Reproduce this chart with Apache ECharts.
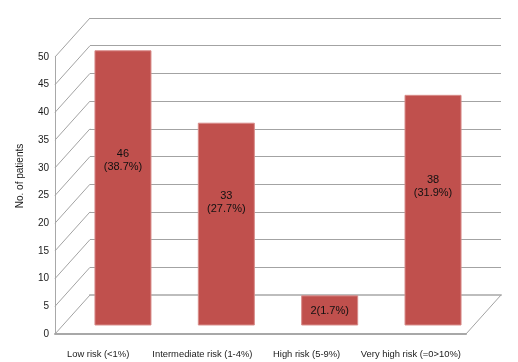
<!DOCTYPE html>
<html>
<head>
<meta charset="utf-8">
<script src="https://cdn.jsdelivr.net/npm/echarts@6/dist/echarts.min.js"></script>
<style>html,body{margin:0;padding:0;background:#fff}#c{width:518px;height:362px}</style>
</head>
<body>
<div id="c"></div>
<script>
var categories = ['Low risk (<1%)', 'Intermediate risk (1-4%)', 'High risk (5-9%)', 'Very high risk (=0>10%)'];
var counts = [46, 33, 2, 38];
var percents = ['38.7%', '27.7%', '1.7%', '31.9%'];
var yTicks = [0, 5, 10, 15, 20, 25, 30, 35, 40, 45, 50];
var yTitle = 'No. of patients';

var FONT = '"Liberation Sans", Arial, sans-serif';
var GRID_LINE = '#a3a3a3';
var DEPTH_X = -35, DEPTH_Y = 39;   // perspective offset from back wall to front plane
var BAR_BASE = -3.23;              // bars hang slightly below the zero level (3D look)

var chart = echarts.init(document.getElementById('c'), null, {renderer: 'canvas'});

var labels = counts.map(function (c, i) {
  return c >= 10 ? c + '\n(' + percents[i] + ')' : c + '(' + percents[i] + ')';
});

var option = {
  animation: false,
  backgroundColor: '#ffffff',
  textStyle: {fontFamily: FONT},
  grid: [
    {left: 55, top: 57, width: 411, height: 277},
    {left: 90, top: 18, width: 411, height: 277},
    {left: 71.3, top: 28.5, width: 413.4, height: 278.5},
    {left: 46, top: 300, width: 417, height: 44}
  ],
  xAxis: [
    {gridIndex: 0, type: 'category', data: categories, axisTick: {show: false}, axisLabel: {show: false},
      axisLine: {show: true, lineStyle: {color: '#a8a8a8', width: 2}}},
    {gridIndex: 1, type: 'category', data: categories, position: 'top', axisTick: {show: false}, axisLabel: {show: false},
      axisLine: {show: true, lineStyle: {color: '#bdbdbd', width: 2}}},
    {gridIndex: 2, type: 'category', data: categories, show: false},
    {gridIndex: 3, type: 'category', data: categories, axisTick: {show: false}, axisLine: {show: false},
      axisLabel: {show: true, interval: 0, margin: 6, fontSize: 9.4, color: '#1a1a1a', fontFamily: FONT}}
  ],
  yAxis: [
    {gridIndex: 0, type: 'value', min: yTicks[0], max: yTicks[yTicks.length - 1], interval: 5,
      axisLine: {show: true, lineStyle: {color: '#a8a8a8', width: 1}}, axisTick: {show: false},
      splitLine: {show: false},
      axisLabel: {show: true, fontSize: 10, color: '#1a1a1a', margin: 6, fontFamily: FONT}},
    {gridIndex: 1, type: 'value', min: yTicks[0], max: yTicks[yTicks.length - 1], interval: 5,
      axisLine: {show: false}, axisTick: {show: false}, axisLabel: {show: false},
      splitLine: {show: true, lineStyle: {color: GRID_LINE, width: 1}}},
    {gridIndex: 2, type: 'value', min: 0, max: 50, show: false, splitLine: {show: false}},
    {gridIndex: 3, type: 'value', show: false, splitLine: {show: false}}
  ],
  graphic: [
    {type: 'text', x: 20, y: 176, rotation: Math.PI / 2,
      style: {text: yTitle, fill: '#1a1a1a', font: '10px ' + FONT, align: 'center', verticalAlign: 'middle'}}
  ],
  series: [
    {
      type: 'custom', xAxisIndex: 1, yAxisIndex: 1, clip: false, silent: true,
      data: yTicks.map(function (t) { return [0, t]; }),
      renderItem: function (params, api) {
        var cs = params.coordSys;
        var p = api.coord([0, api.value(1)]);
        var children = [{
          type: 'line',
          shape: {x1: cs.x, y1: p[1], x2: cs.x + DEPTH_X, y2: p[1] + DEPTH_Y},
          style: {stroke: GRID_LINE, lineWidth: 1}
        }];
        if (api.value(1) === 0) {
          children.push({
            type: 'line',
            shape: {x1: cs.x + cs.width, y1: p[1], x2: cs.x + cs.width + DEPTH_X, y2: p[1] + DEPTH_Y},
            style: {stroke: GRID_LINE, lineWidth: 1}
          });
        }
        return {type: 'group', children: children};
      }
    },
    {
      type: 'custom', xAxisIndex: 2, yAxisIndex: 2, clip: false,
      data: counts.map(function (v, i) { return [i, v]; }),
      renderItem: function (params, api) {
        var i = api.value(0), v = api.value(1);
        var top = api.coord([i, v]);
        var bot = api.coord([i, BAR_BASE]);
        var w = api.size([1, 0])[0] * 0.542;
        var multi = labels[i].indexOf('\n') >= 0;
        var ly = multi ? api.coord([i, v * 0.57])[1] : (top[1] + bot[1]) / 2 + 1;
        return {
          type: 'group',
          children: [
            {type: 'rect', shape: {x: top[0] - w / 2, y: top[1], width: w, height: bot[1] - top[1]},
              style: {fill: '#c0504d', stroke: '#d88c8a', lineWidth: 1}},
            {type: 'text', x: top[0], y: ly,
              style: {text: labels[i], fill: '#111', font: '11px ' + FONT, align: 'center', verticalAlign: 'middle', lineHeight: 13}}
          ]
        };
      }
    },
    {type: 'bar', xAxisIndex: 3, yAxisIndex: 3, data: []}
  ]
};
chart.setOption(option);
</script>
</body>
</html>
